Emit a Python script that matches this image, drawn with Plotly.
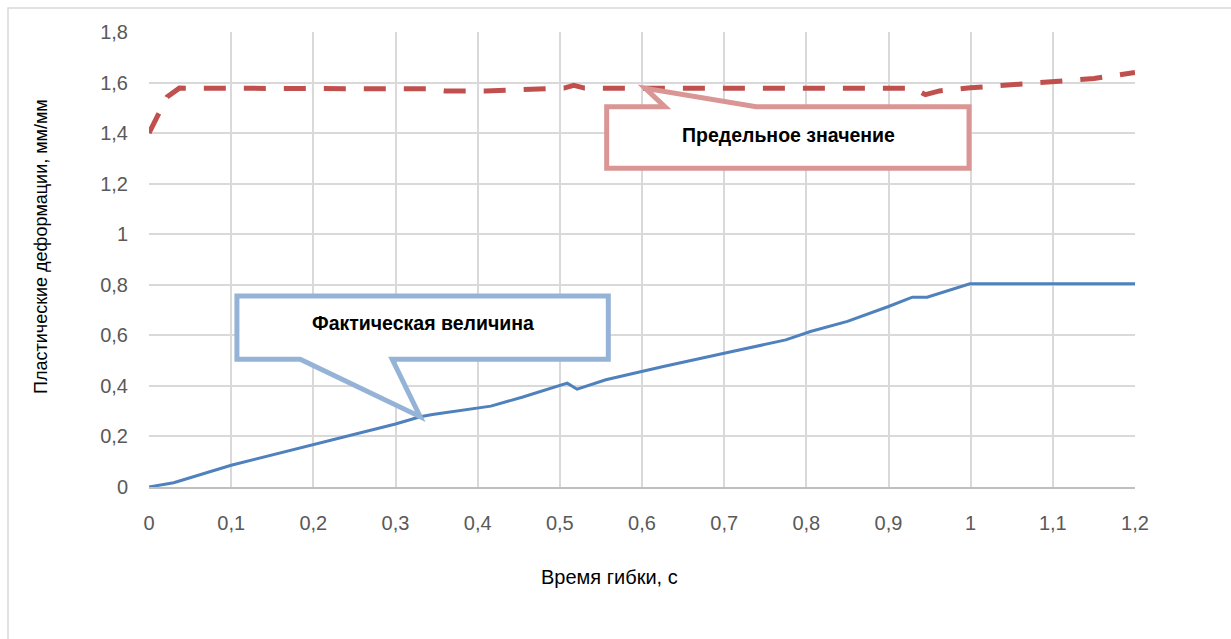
import numpy as np
import plotly.graph_objects as go

# --- data -------------------------------------------------------------
# Actual plastic strain vs bending time
t_actual = [0, 0.03, 0.10, 0.18, 0.20, 0.30, 0.33, 0.345, 0.416, 0.455,
            0.509, 0.521, 0.556, 0.626, 0.70, 0.775, 0.805, 0.85, 0.90,
            0.929, 0.947, 0.999, 1.2]
eps_actual = [0, 0.017, 0.086, 0.150, 0.166, 0.249, 0.278, 0.287, 0.320, 0.356,
              0.411, 0.387, 0.424, 0.477, 0.529, 0.582, 0.615, 0.655, 0.714,
              0.751, 0.751, 0.804, 0.804]

# Limit plastic strain vs bending time
t_limit = [0, 0.022, 0.037, 0.10, 0.20, 0.30, 0.34, 0.36, 0.385, 0.41,
           0.45, 0.49, 0.505, 0.517, 0.53, 0.60, 0.70, 0.80, 0.90, 0.93,
           0.945, 0.962, 1.0, 1.05, 1.10, 1.15, 1.2]
eps_limit = [1.40, 1.543, 1.578, 1.578, 1.577, 1.577, 1.575, 1.567, 1.566, 1.567,
             1.572, 1.577, 1.578, 1.589, 1.578, 1.577, 1.576, 1.577, 1.578, 1.578,
             1.552, 1.567, 1.579, 1.590, 1.605, 1.616, 1.64]

x_ticks = [0, 0.1, 0.2, 0.3, 0.4, 0.5, 0.6, 0.7, 0.8, 0.9, 1.0, 1.1, 1.2]
x_labels = ["0", "0,1", "0,2", "0,3", "0,4", "0,5", "0,6", "0,7", "0,8",
            "0,9", "1", "1,1", "1,2"]
y_ticks = [0, 0.2, 0.4, 0.6, 0.8, 1.0, 1.2, 1.4, 1.6, 1.8]
y_labels = ["0", "0,2", "0,4", "0,6", "0,8", "1", "1,2", "1,4", "1,6", "1,8"]

label_actual = "Фактическая величина"
label_limit = "Предельное значение"
x_title = "Время гибки, с"
y_title = "Пластические деформации, мм/мм"

# --- styling ------------------------------------------------------------
FONT = "Liberation Sans, Arial, sans-serif"
BLUE = "#4F81BD"
RED = "#C0504D"
BLUE_CALLOUT = "#95B3D7"
RED_CALLOUT = "#D99694"
GRID = "#D9D9D9"

W, H = 1231, 639
ML, MR, MT, MB = 149, 96, 32, 152
PW, PH = W - ML - MR, H - MT - MB


def px_to_paper(px, py):
    return (px - ML) / PW, (H - MB - py) / PH


fig = go.Figure()

fig.add_trace(go.Scatter(
    x=t_limit, y=eps_limit, mode="lines", name=label_limit,
    line=dict(color=RED, width=5, dash="22px,18px"),
    showlegend=False, hoverinfo="skip"))

fig.add_trace(go.Scatter(
    x=t_actual, y=eps_actual, mode="lines", name=label_actual,
    line=dict(color=BLUE, width=3),
    showlegend=False, hoverinfo="skip"))


def callout_path(x0, x1, y0, y1, base_a, base_b, tip, on_top):
    """Rectangular callout with a wedge pointer leaving the top or bottom edge."""
    tx, ty = tip
    if on_top:
        pts = [(x0, y1), (base_a, y1), (tx, ty), (base_b, y1), (x1, y1),
               (x1, y0), (x0, y0)]
    else:
        pts = [(x0, y1), (x1, y1), (x1, y0), (base_b, y0), (tx, ty),
               (base_a, y0), (x0, y0)]
    return "M " + " L ".join(f"{x},{y}" for x, y in pts) + " Z"


# pointer tips sit on the curves themselves
tip_actual_x = 0.330
tip_actual = (tip_actual_x, float(np.interp(tip_actual_x, t_actual, eps_actual)))
tip_limit_x = 0.604
tip_limit = (tip_limit_x, float(np.interp(tip_limit_x, t_limit, eps_limit)))

shapes = [
    dict(type="path", xref="x", yref="y",
         path=callout_path(0.107, 0.559, 0.505, 0.756, 0.184, 0.296, tip_actual, False),
         line=dict(color=BLUE_CALLOUT, width=5), fillcolor="white", layer="above"),
    dict(type="path", xref="x", yref="y",
         path=callout_path(0.557, 0.998, 1.261, 1.504, 0.628, 0.739, tip_limit, True),
         line=dict(color=RED_CALLOUT, width=5), fillcolor="white", layer="above"),
]

# chart-area frame
bx0, by0 = px_to_paper(8, 8)
bx1, by1 = px_to_paper(1260, 700)
shapes.append(dict(type="rect", xref="paper", yref="paper",
                   x0=bx0, y0=by1, x1=bx1, y1=by0,
                   line=dict(color="#D9D9D9", width=1.5), fillcolor="rgba(0,0,0,0)",
                   layer="below"))

annotations = [
    dict(x=0.333, y=0.648, xref="x", yref="y", text=f"<b>{label_actual}</b>",
         showarrow=False, font=dict(family=FONT, size=19.5, color="#000000")),
    dict(x=0.778, y=1.392, xref="x", yref="y", text=f"<b>{label_limit}</b>",
         showarrow=False, font=dict(family=FONT, size=19.5, color="#000000")),
]

ax, ay = px_to_paper(609, 577)
annotations.append(dict(x=ax, y=ay, xref="paper", yref="paper", text=x_title,
                        showarrow=False, xanchor="center", yanchor="middle",
                        font=dict(family=FONT, size=20, color="#000000")))
ax, ay = px_to_paper(41, 247)
annotations.append(dict(x=ax, y=ay, xref="paper", yref="paper", text=y_title,
                        showarrow=False, textangle=-90, xanchor="center",
                        yanchor="middle",
                        font=dict(family=FONT, size=18, color="#000000")))

fig.update_layout(
    width=W, height=H,
    margin=dict(l=ML, r=MR, t=MT, b=MB),
    paper_bgcolor="white", plot_bgcolor="white",
    font=dict(family=FONT, size=20, color="#595959"),
    shapes=shapes, annotations=annotations,
    xaxis=dict(range=[0, 1.2], tickvals=x_ticks, ticktext=x_labels,
               showgrid=True, gridcolor=GRID, gridwidth=1.5,
               zeroline=False, showline=True, linecolor="#BFBFBF", linewidth=1.5,
               ticks="", ticklabelstandoff=17,
               tickfont=dict(family=FONT, size=20, color="#595959")),
    yaxis=dict(range=[0, 1.8], tickvals=y_ticks, ticktext=y_labels,
               showgrid=True, gridcolor=GRID, gridwidth=1.5,
               zeroline=False, showline=False,
               ticks="", ticklabelstandoff=20,
               tickfont=dict(family=FONT, size=20, color="#595959")),
)

fig.write_html("out.html")
